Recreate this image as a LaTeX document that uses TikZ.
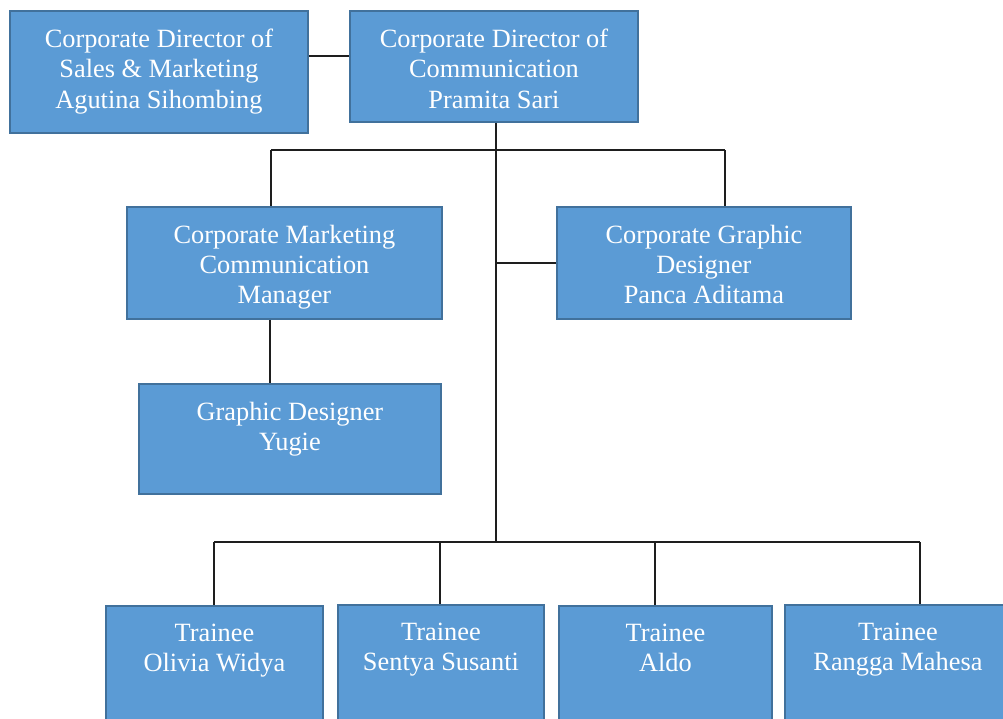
\documentclass[tikz,border=0pt]{standalone}
\usepackage{fontspec}
\setmainfont{Liberation Serif}
\usepackage{tikz}
\usetikzlibrary{positioning,calc}
\definecolor{boxBlue}{HTML}{5B9BD5}
\definecolor{boxEdge}{HTML}{41719C}
\definecolor{wireGray}{HTML}{1E1E1E}

\tikzset{
  unit/.style={rectangle,fill=boxBlue,draw=boxEdge,line width=1.1pt,
    anchor=north west,inner sep=0pt},
  txt/.style={anchor=north,yshift=-0.38cm,align=center,inner sep=0pt,
    text=white,font=\fontsize{15}{17.1}\selectfont},
  wire/.style={draw=wireGray,line width=0.8pt}
}

\begin{document}
\begin{tikzpicture}[x=0.02cm,y=-0.02cm]
    \useasboundingbox (0,0) rectangle (1003,718);
    \clip (0,0) rectangle (1003,718);
    % top row
    \node[unit,minimum width=5.96cm,minimum height=2.44cm,
      label={[txt]north:{Corporate Director of\\Sales \& Marketing\\Agutina Sihombing}}] (sales) at (9,10) {};
    \node[unit,minimum width=5.76cm,minimum height=2.22cm,
      label={[txt]north:{Corporate Director of\\Communication\\Pramita Sari}}] (comm) at (349,10) {};
    % managers
    \node[unit,minimum width=6.30cm,minimum height=2.24cm,
      label={[txt]north:{Corporate Marketing\\Communication\\Manager}}] (mgr) at (126,206) {};
    \node[unit,minimum width=5.88cm,minimum height=2.24cm,
      label={[txt]north:{Corporate Graphic\\Designer\\Panca Aditama}}] (graph) at (556,206) {};
    \node[unit,minimum width=6.04cm,minimum height=2.20cm,
      label={[txt]north:{Graphic Designer\\Yugie}}] (yugie) at (138,383) {};
    % trainees
    \node[unit,minimum width=4.34cm,minimum height=2.6cm,
      label={[txt]north:{Trainee\\Olivia Widya}}] (t1) at (105,605) {};
    \node[unit,minimum width=4.12cm,minimum height=2.6cm,
      label={[txt]north:{Trainee\\Sentya Susanti}}] (t2) at (337,604) {};
    \node[unit,minimum width=4.26cm,minimum height=2.6cm,
      label={[txt]north:{Trainee\\Aldo}}] (t3) at (558,605) {};
    \node[unit,minimum width=4.52cm,minimum height=2.6cm,
      label={[txt]north:{Trainee\\Rangga Mahesa}}] (t4) at (784,604) {};

    % junction points
    \coordinate (trunk) at (496,543);
    \coordinate (b1) at (271,150);
    \coordinate (b2) at (725,150);
    \coordinate (s1) at (214,542);
    \coordinate (s2) at (440,542);
    \coordinate (s3) at (655,542);
    \coordinate (s4) at (920,542);

    % connectors
    \draw[wire] (sales.east |- 0,56) -- (comm.west |- 0,56);
    \draw[wire] (trunk |- comm.south) -- (trunk);
    \draw[wire] (b1) -- (b2);
    \draw[wire] (b1) -- (b1 |- mgr.north);
    \draw[wire] (b2) -- (b2 |- graph.north);
    \draw[wire] (trunk |- graph.west) -- (graph.west);
    \draw[wire] (mgr.south -| 270,0) -- (yugie.north -| 270,0);
    \draw[wire] (s1) -- (s4);
    \foreach \s/\t in {s1/t1,s2/t2,s3/t3,s4/t4}
      \draw[wire] (\s) -- (\s |- \t.north);
\end{tikzpicture}
\end{document}
